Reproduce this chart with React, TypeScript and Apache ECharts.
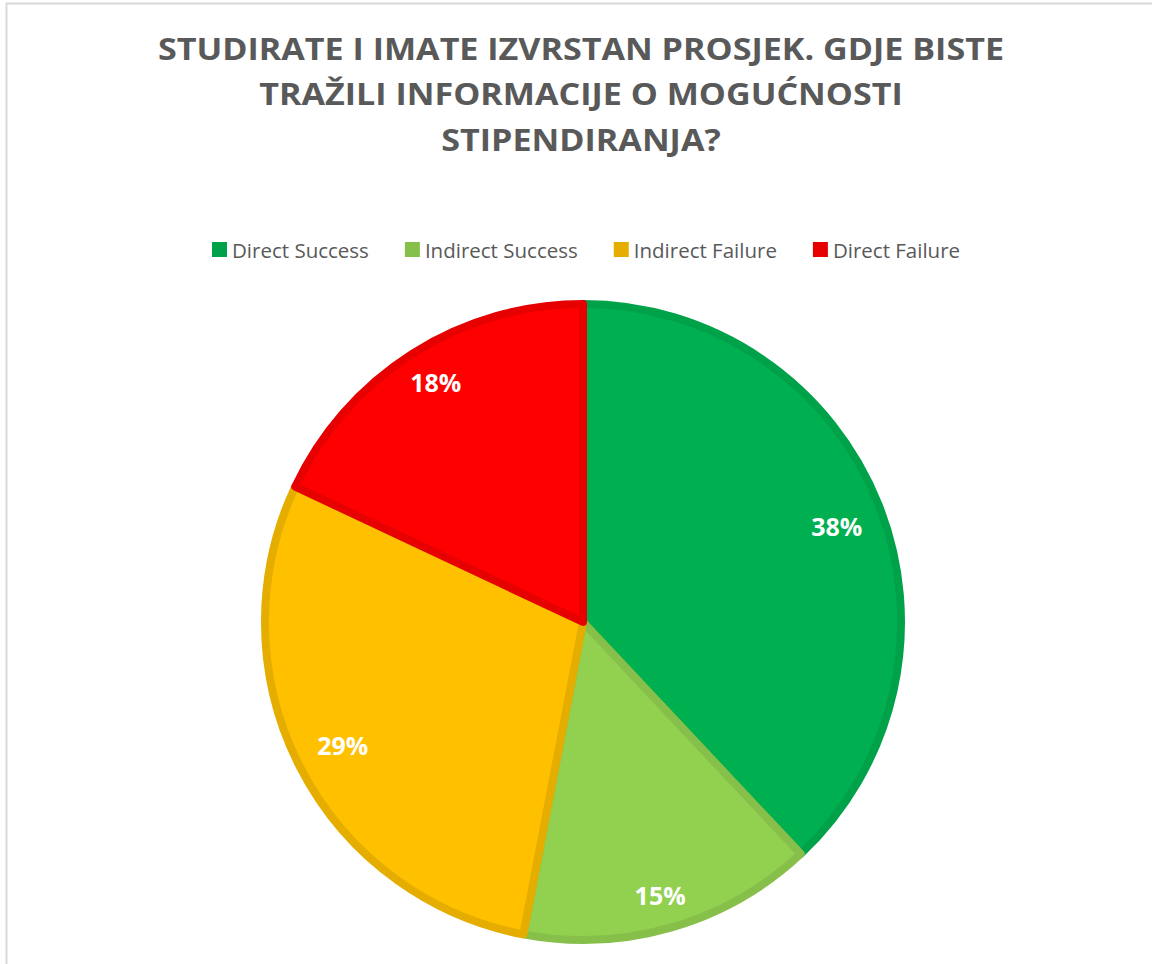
import React, { useEffect, useRef } from "react";
import * as echarts from "echarts";

const titleLines = [
  "STUDIRATE I IMATE IZVRSTAN PROSJEK. GDJE BISTE",
  "TRAŽILI INFORMACIJE O MOGUĆNOSTI",
  "STIPENDIRANJA?",
];
const categories = ["Direct Success", "Indirect Success", "Indirect Failure", "Direct Failure"];
const values = [38, 15, 29, 18];
const fillColors = ["#00B050", "#92D050", "#FFC000", "#FF0000"];
const borderColors = ["#00A249", "#86C04A", "#E5AD00", "#E60000"];
// small [dx, dy] nudges to mimic the reference label placement
const labelNudges = [
  [0, 4],
  [1, 11],
  [3, -1],
  [-1, -9],
];

export default function App() {
  const ref = useRef<HTMLDivElement>(null);
  useEffect(() => {
    if (!ref.current) return;
    const chart = echarts.init(ref.current, undefined, { renderer: "svg" });
    const cx = 583;
    const cy = 622;
    const r = 318;
    const titleYs = [48, 93, 139];
    chart.setOption({
      animation: false,
      backgroundColor: "#ffffff",
      legend: {
        top: 239,
        left: 212,
        padding: 0,
        itemWidth: 15,
        itemHeight: 15,
        itemGap: 36,
        icon: "rect",
        textStyle: { fontFamily: "Open Sans", fontSize: 20.5, color: "#595959" },
        data: categories.map((c, i) => ({ name: c, itemStyle: { color: borderColors[i], borderWidth: 0 } })),
      },
      graphic: [
        {
          type: "rect",
          shape: { x: 6.5, y: 3.5, width: 1300, height: 1100 },
          style: { fill: "none", stroke: "#d9d9d9", lineWidth: 2 },
          silent: true,
        },
        ...titleLines.map((t, i) => ({
          type: "text",
          x: 581,
          y: titleYs[i],
          scaleX: 1.1,
          silent: true,
          style: {
            text: t,
            align: "center",
            verticalAlign: "middle",
            fill: "#595959",
            font: "bold 31px 'Open Sans'",
          },
        })),
      ],
      series: [
        {
          type: "pie",
          center: [cx, cy],
          radius: [0, r],
          startAngle: 90,
          clockwise: true,
          label: { show: false },
          labelLine: { show: false },
          emphasis: { disabled: true },
          data: categories.map((c, i) => ({
            name: c,
            value: values[i],
            itemStyle: { color: fillColors[i], borderColor: borderColors[i], borderWidth: 8 },
          })),
        },
        {
          type: "pie",
          center: [cx, cy],
          radius: [222, r],
          startAngle: 90,
          clockwise: true,
          silent: true,
          emphasis: { disabled: true },
          itemStyle: { color: "rgba(0,0,0,0)", borderWidth: 0 },
          label: {
            show: true,
            position: "inside",
            formatter: (p: any) => `${p.value}%`,
            color: "#ffffff",
            fontFamily: "Open Sans",
            fontWeight: "bold",
            fontSize: 25,
          },
          labelLayout: (p: any) => ({ dx: labelNudges[p.dataIndex][0], dy: labelNudges[p.dataIndex][1] }),
          labelLine: { show: false },
          data: categories.map((c, i) => ({ name: c, value: values[i] })),
        },
      ],
    });
    return () => chart.dispose();
  }, []);
  return (
    <div
      ref={ref}
      style={{ position: "fixed", left: 0, top: 0, width: 1152, height: 964 }}
    />
  );
}
